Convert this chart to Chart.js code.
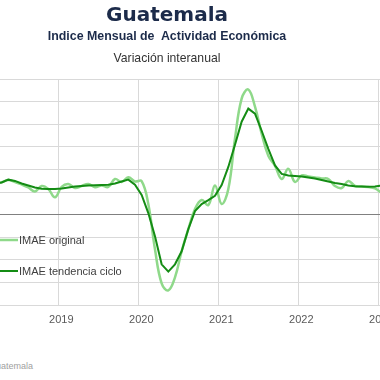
<!DOCTYPE html>
<html><head><meta charset="utf-8">
<script src="https://cdn.jsdelivr.net/npm/chart.js@4/dist/chart.umd.min.js"></script>
<style>
html,body{margin:0;padding:0;background:#fff;}
#wrap{position:relative;width:380px;height:380px;overflow:hidden;}
#c{position:absolute;left:0;top:0;}
.t{position:absolute;white-space:nowrap;transform:translateX(-50%);left:167px;line-height:1;}
#title{top:2px;font:bold 20px "DejaVu Sans";color:#1c2b4a;}
#sub{top:28.8px;font:bold 12.4px "Liberation Sans";color:#1c2b4a;}
#sub2{top:50.5px;font:12.2px "Liberation Sans";color:#333;}
#src{position:absolute;right:347px;top:361.4px;line-height:1;font:9px "Liberation Sans";color:#a0a0a0;white-space:nowrap;}
</style></head><body>
<div id="wrap">
<canvas id="c" width="440" height="340"></canvas>
<div class="t" id="title">Guatemala</div>
<div class="t" id="sub">Indice Mensual de&nbsp; Actividad Económica</div>
<div class="t" id="sub2">Variación interanual</div>
<div id="src">Fuente: Banco de Guatemala</div>
</div>
<script>
const months = [
 '2018-03','2018-04','2018-05','2018-06','2018-07','2018-08','2018-09','2018-10','2018-11','2018-12',
 '2019-01','2019-02','2019-03','2019-04','2019-05','2019-06','2019-07','2019-08','2019-09','2019-10','2019-11','2019-12',
 '2020-01','2020-02','2020-03','2020-04','2020-05','2020-06','2020-07','2020-08','2020-09','2020-10','2020-11','2020-12',
 '2021-01','2021-02','2021-03','2021-04','2021-05','2021-06','2021-07','2021-08','2021-09','2021-10','2021-11','2021-12',
 '2022-01','2022-02','2022-03','2022-04','2022-05','2022-06','2022-07','2022-08','2022-09','2022-10','2022-11','2022-12',
 '2023-01'
];
const imaeOriginal = [
 4.2, 4.29, 4.6, 4.33, 4.0, 3.6, 3.07, 3.8, 3.4, 2.29,
 3.67, 4.07, 3.53, 3.8, 4.07, 3.63, 3.87, 3.67, 4.73, 4.33, 4.96, 4.4,
 4.43, 1.4, -4.6, -9.13, -10.07, -8.33, -4.87, -1.93, 0.73, 1.93, 1.27, 3.87,
 1.4, 3.4, 10.07, 15.4, 16.6, 14.33, 10.73, 7.8, 6.47, 4.73, 6.07, 4.33,
 5.2, 5.07, 4.93, 4.8, 4.73, 3.8, 3.53, 4.47, 3.8, 3.73, 3.67, 3.47,
 2.87
];
const imaeTendencia = [
 4.1, 4.27, 4.64, 4.47, 4.13, 3.87, 3.6, 3.44, 3.4, 3.4,
 3.47, 3.6, 3.73, 3.8, 3.87, 3.9, 3.93, 3.97, 4.13, 4.4, 4.64, 3.97,
 2.6, 0.2, -2.87, -6.6, -7.57, -6.6, -4.87, -1.93, 0.47, 1.4, 1.93, 2.5,
 3.93, 6.33, 9.27, 12.33, 14.07, 13.4, 11.13, 8.73, 6.53, 5.4, 5.2, 5.13,
 5.07, 4.93, 4.8, 4.6, 4.4, 4.2, 4.07, 3.87, 3.76, 3.73, 3.71, 3.73,
 3.87
];
const yearTicks = ['2019','2020','2021','2022','2023'];
const seriesNames = ['IMAE original','IMAE tendencia ciclo'];

// month string -> months since Jan 2018, at mid-month
const toX = s => { const [y,m] = s.split('-').map(Number); return (y-2018)*12 + (m-1) + 0.5; };
const yearX = y => (Number(y)-2018)*12;

const legendInside = {
  id:'legendInside',
  afterDraw(chart){
    const ctx = chart.ctx, ca = chart.chartArea;
    const ys = [240, 271];
    ctx.save();
    ctx.font = '11px "Liberation Sans"';
    ctx.textBaseline = 'middle';
    ctx.fillStyle = '#404040';
    chart.data.datasets.forEach((ds,i)=>{
      const y = ys[i];
      ctx.strokeStyle = ds.borderColor;
      ctx.lineWidth = ds.borderWidth;
      ctx.beginPath(); ctx.moveTo(ca.left, y); ctx.lineTo(ca.left+18, y); ctx.stroke();
      ctx.fillText(ds.label, ca.left+19, y+0.5);
    });
    ctx.restore();
  }
};

new Chart(document.getElementById('c'), {
  type:'line',
  data:{
    datasets:[
      {label:seriesNames[0], data:months.map((m,i)=>({x:toX(m), y:imaeOriginal[i]})),
       borderColor:'#8fd98a', borderWidth:2.5, pointRadius:0, tension:0.4, order:1},
      {label:seriesNames[1], data:months.map((m,i)=>({x:toX(m), y:imaeTendencia[i]})),
       borderColor:'#148c14', borderWidth:2, pointRadius:0, tension:0, order:0}
    ]
  },
  options:{
    responsive:false, animation:false, devicePixelRatio:1,
    layout:{padding:{top:79,left:0,right:0,bottom:0}},
    plugins:{legend:{display:false}, tooltip:{enabled:false}},
    scales:{
      x:{type:'linear', min:3.255, max:69.25,
         afterBuildTicks: s => { s.ticks = yearTicks.map(y=>({value:yearX(y)})); },
         afterFit: s => { s.height = 35; },
         grid:{color:'#d9d9d9', lineWidth:1, drawTicks:false},
         border:{display:true, color:'#d9d9d9'},
         ticks:{padding:8, labelOffset:3, color:'#595959', font:{family:'Liberation Sans', size:11},
                autoSkip:false, maxRotation:0,
                callback:(v)=>{ const i = yearTicks.findIndex(y=>yearX(y)===v); return i>=0 ? yearTicks[i] : ''; }}
      },
      y:{min:-12, max:18,
         afterFit: s => { s.width = 0; },
         ticks:{display:false, stepSize:3},
         grid:{drawTicks:false, color: c => c.tick && c.tick.value===0 ? '#808080' : '#d9d9d9'},
         border:{display:false}
      }
    }
  },
  plugins:[legendInside]
});
</script>
</body></html>
